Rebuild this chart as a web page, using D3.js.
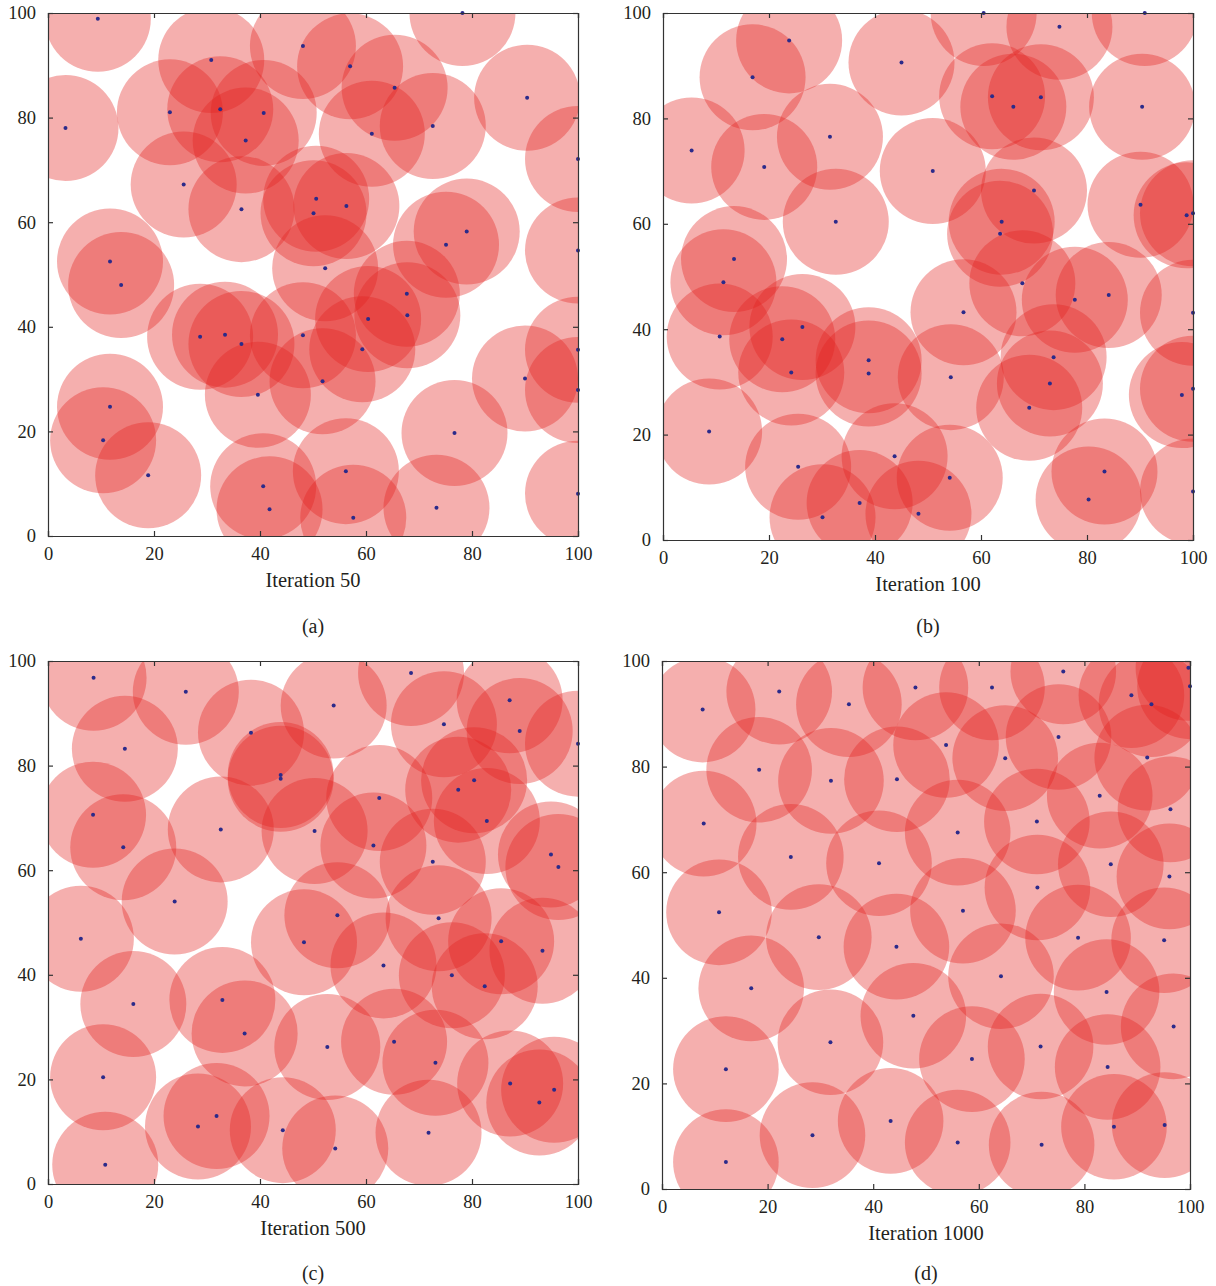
<!DOCTYPE html>
<html>
<head>
<meta charset="utf-8">
<script src="https://cdn.jsdelivr.net/npm/d3@7"></script>
<style>
  body { margin: 0; background: #fff; }
  svg text { font-family: "Liberation Serif", "DejaVu Serif", serif; fill: #231f20; }
</style>
</head>
<body>
<svg id="chart" width="1216" height="1286"></svg>
<script>
// Sensor coverage after N iterations, sensing radius 10
const ticks = [0, 20, 40, 60, 80, 100];
const radius = 10;

const iter50 = [
  [9.4, 98.9], [78.2, 100], [48.1, 93.7], [30.8, 91.0], [57.0, 89.8], [65.4, 85.7],
  [90.4, 83.8], [3.3, 78.0], [23.0, 81.0], [32.5, 81.6], [40.7, 80.9], [37.3, 75.6],
  [61.1, 76.9], [72.6, 78.4], [100, 72.1], [25.6, 67.2], [36.5, 62.5], [50.6, 64.5],
  [56.3, 63.1], [50.1, 61.7], [79.0, 58.2], [75.1, 55.7], [100, 54.6], [11.7, 52.5],
  [52.3, 51.2], [13.8, 48.0], [67.7, 46.3], [67.8, 42.2], [60.4, 41.5], [28.7, 38.1],
  [33.4, 38.5], [36.5, 36.7], [48.1, 38.4], [59.3, 35.7], [51.8, 29.6], [39.6, 27.0],
  [90.0, 30.1], [100, 35.6], [100, 27.9], [11.7, 24.7], [10.4, 18.3], [18.9, 11.6],
  [76.7, 19.7], [56.2, 12.4], [40.6, 9.5], [41.8, 5.1], [57.6, 3.5], [73.3, 5.4],
  [100, 8.1]
];

const iter100 = [
  [23.8, 94.8], [16.9, 87.8], [45.0, 90.6], [60.5, 100], [74.8, 97.4], [90.9, 100],
  [62.1, 84.2], [66.1, 82.2], [71.3, 84.0], [90.4, 82.2], [5.4, 73.9], [31.5, 76.5],
  [19.1, 70.8], [50.9, 70.0], [32.6, 60.4], [13.4, 53.3], [70.0, 66.3], [63.9, 60.4],
  [63.6, 58.1], [90.1, 63.6], [98.8, 61.6], [100, 62.0], [11.4, 48.9], [10.7, 38.6],
  [26.3, 40.4], [22.5, 38.1], [24.2, 31.8], [38.8, 34.1], [38.8, 31.6], [54.3, 30.9],
  [56.7, 43.2], [67.8, 48.7], [77.7, 45.6], [84.1, 46.5], [100, 43.1], [73.7, 34.7],
  [73.0, 29.7], [69.1, 25.1], [97.9, 27.5], [100, 28.7], [8.7, 20.6], [25.5, 13.9],
  [43.7, 15.9], [54.1, 11.8], [37.1, 7.0], [30.1, 4.3], [48.2, 5.0], [83.3, 13.0],
  [80.3, 7.7], [100, 9.2]
];

const iter500 = [
  [8.6, 96.8], [26.0, 94.1], [53.9, 91.5], [68.5, 97.7], [87.1, 92.5], [74.7, 87.9],
  [89.0, 86.6], [100, 84.2], [14.5, 83.2], [38.3, 86.3], [43.9, 78.2], [43.9, 77.5],
  [80.4, 77.2], [77.4, 75.4], [62.5, 73.8], [8.5, 70.6], [14.2, 64.4], [32.6, 67.8],
  [50.3, 67.5], [61.4, 64.7], [82.8, 69.4], [94.9, 63.0], [96.3, 60.6], [72.6, 61.6],
  [23.9, 54.0], [54.6, 51.4], [73.7, 50.8], [6.2, 46.9], [16.1, 34.4], [32.9, 35.2],
  [37.1, 28.8], [48.3, 46.2], [63.3, 41.8], [76.2, 39.9], [82.4, 37.8], [85.5, 46.4],
  [93.3, 44.6], [52.7, 26.2], [65.3, 27.2], [73.1, 23.2], [10.4, 20.4], [87.2, 19.2],
  [95.5, 18.0], [92.7, 15.6], [31.8, 13.0], [28.3, 11.0], [44.3, 10.3], [54.2, 6.8],
  [71.8, 9.8], [10.8, 3.7]
];

const iter1000 = [
  [7.7, 90.8], [22.2, 94.2], [35.4, 91.8], [48.0, 95.0], [62.5, 95.0], [76.0, 98.0],
  [88.9, 93.5], [92.7, 91.8], [99.7, 98.7], [100, 95.2], [18.4, 79.4], [32.0, 77.3],
  [44.5, 77.6], [53.8, 84.1], [65.0, 81.6], [75.1, 85.6], [91.9, 81.7], [82.9, 74.5],
  [96.3, 71.9], [7.9, 69.2], [24.4, 62.9], [41.1, 61.7], [56.0, 67.5], [71.0, 69.6],
  [85.0, 61.5], [96.1, 59.2], [71.1, 57.1], [10.8, 52.4], [57.0, 52.7], [29.7, 47.7],
  [44.4, 45.9], [78.8, 47.6], [95.1, 47.1], [16.9, 38.0], [64.2, 40.3], [84.2, 37.3],
  [47.6, 32.8], [96.9, 30.8], [31.9, 27.8], [12.1, 22.7], [58.7, 24.6], [71.7, 27.0],
  [84.4, 23.1], [43.3, 12.9], [28.5, 10.2], [12.1, 5.1], [56.0, 8.8], [71.9, 8.4],
  [85.6, 11.8], [95.2, 12.1]
];

const captions = ["Iteration 50", "Iteration 100", "Iteration 500", "Iteration 1000"];
const tags = ["(a)", "(b)", "(c)", "(d)"];

// plot boxes in page pixels
const panels = [
  { nodes: iter50,   x0: 48,  x1: 578,  y0: 13,  y1: 536,  tagY: 633 },
  { nodes: iter100,  x0: 663, x1: 1193, y0: 13,  y1: 540,  tagY: 633 },
  { nodes: iter500,  x0: 48,  x1: 578,  y0: 661, y1: 1184, tagY: 1280 },
  { nodes: iter1000, x0: 662, x1: 1190, y0: 661, y1: 1189, tagY: 1280 }
];

const svg = d3.select('#chart');
const tickLen = 5;

panels.forEach((p, i) => {
  const x = d3.scaleLinear().domain([0, 100]).range([p.x0, p.x1]);
  const y = d3.scaleLinear().domain([0, 100]).range([p.y1, p.y0]);
  const g = svg.append('g');

  g.append('clipPath').attr('id', `clip-${i}`)
    .append('rect')
    .attr('x', p.x0).attr('y', p.y0)
    .attr('width', p.x1 - p.x0).attr('height', p.y1 - p.y0);

  const area = g.append('g').attr('clip-path', `url(#clip-${i})`);

  area.selectAll('circle.cover')
    .data(p.nodes)
    .enter().append('circle')
    .attr('class', 'cover')
    .attr('cx', d => x(d[0]))
    .attr('cy', d => y(d[1]))
    .attr('r', x(radius) - x(0))
    .style('fill', 'rgb(226,32,30)')
    .style('fill-opacity', 0.36);

  g.selectAll('circle.node')
    .data(p.nodes)
    .enter().append('circle')
    .attr('class', 'node')
    .attr('cx', d => x(d[0]))
    .attr('cy', d => y(d[1]))
    .attr('r', 2)
    .style('fill', '#2b2a8a');

  // frame with inward ticks on all sides
  const axes = [
    d3.axisBottom(x).tickValues(ticks).tickSize(-tickLen).tickPadding(11),
    d3.axisTop(x).tickValues(ticks).tickSize(-tickLen).tickFormat(''),
    d3.axisLeft(y).tickValues(ticks).tickSize(-tickLen).tickPadding(12),
    d3.axisRight(y).tickValues(ticks).tickSize(-tickLen).tickFormat('')
  ];
  const offsets = [
    `translate(0,${p.y1})`, `translate(0,${p.y0})`,
    `translate(${p.x0},0)`, `translate(${p.x1},0)`
  ];
  axes.forEach((ax, k) => {
    const a = g.append('g').attr('transform', offsets[k]).call(ax);
    a.select('.domain').attr('stroke', '#333').attr('stroke-width', 1.2);
    a.selectAll('.tick line').attr('stroke', '#333').attr('stroke-width', 1.2);
    a.selectAll('.tick text')
      .style('font-size', '18.5px')
      .attr('fill', '#231f20');
  });

  g.append('text')
    .attr('x', (p.x0 + p.x1) / 2)
    .attr('y', p.y1 + 51)
    .attr('text-anchor', 'middle')
    .style('font-size', '20.5px')
    .text(captions[i]);

  g.append('text')
    .attr('x', (p.x0 + p.x1) / 2)
    .attr('y', p.tagY)
    .attr('text-anchor', 'middle')
    .style('font-size', '20px')
    .text(tags[i]);
});
</script>
</body>
</html>
